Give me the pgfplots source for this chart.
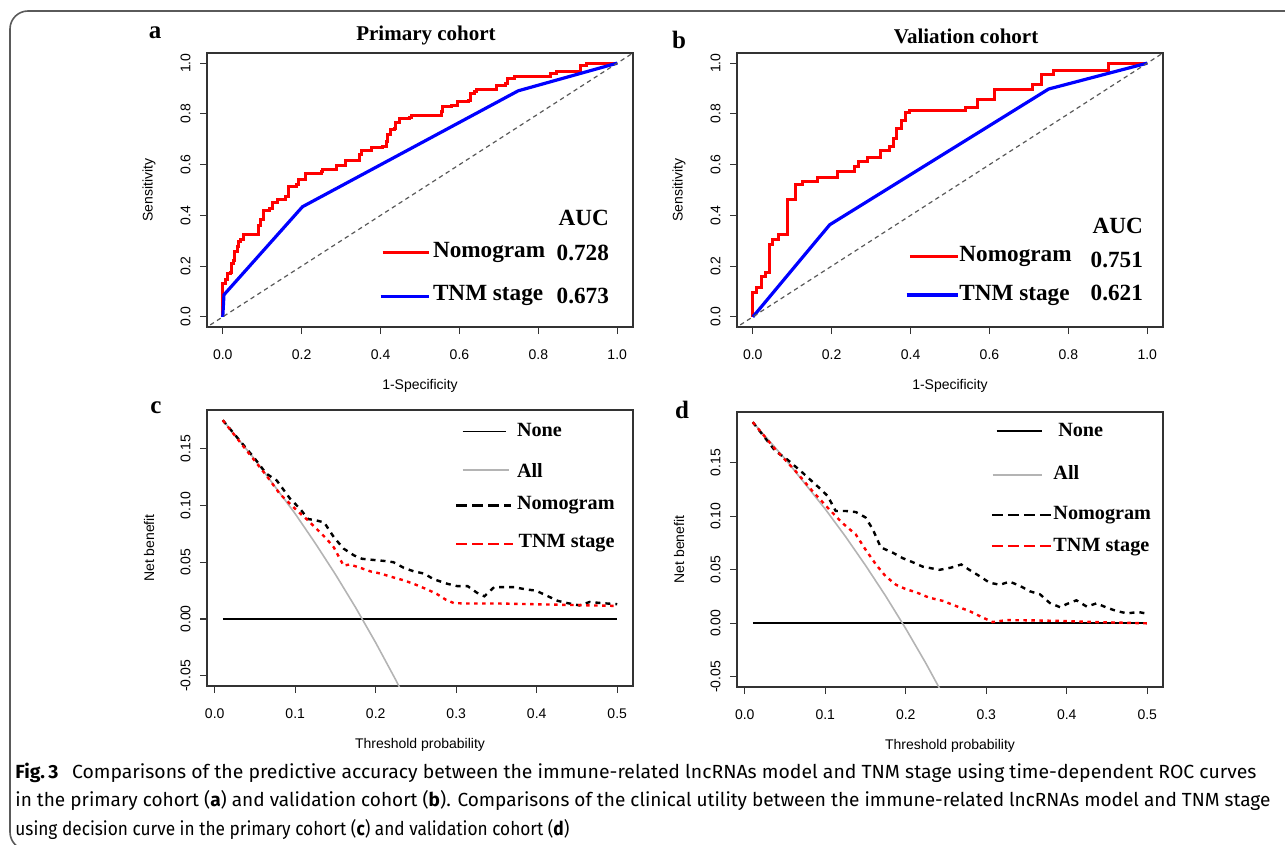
\documentclass[border=0pt]{standalone}
\usepackage{fontspec}
\setmainfont{Liberation Sans}
\newfontfamily\serifb{Liberation Serif}
\newfontfamily\capfont{Fira Sans}
\usepackage{graphicx}
\usepackage{pgfplots}
\pgfplotsset{compat=1.18}

\definecolor{rred}{RGB}{255,0,0}
\definecolor{rblue}{RGB}{0,0,255}
\definecolor{rgray}{RGB}{180,180,180}
\definecolor{framegray}{RGB}{90,90,90}

\pgfplotsset{
  rplot/.style={
    scale only axis, anchor=south west,
    axis line style={draw=black!80, line width=0.6pt},
    tick align=outside, major tick length=3.5pt,
    tick style={black!80, line width=0.6pt},
    xtick pos=left, ytick pos=left,
    ticklabel style={font=\fontsize{7}{8}\selectfont},
    xticklabel style={yshift=-4.5pt},
    yticklabel style={rotate=90, anchor=south, inner ysep=4.6pt},
    label style={font=\fontsize{7}{8}\selectfont},
    xlabel style={at={(axis description cs:0.5,-0.215)}, anchor=center},
    ylabel style={at={(axis description cs:-0.136,0.5)}, anchor=center},
  },
  roc/.style={rplot, width=213pt, height=137pt,
    xmin=-0.04, xmax=1.04, ymin=-0.04, ymax=1.04,
    xtick={0,0.2,0.4,0.6,0.8,1}, xticklabels={0.0,0.2,0.4,0.6,0.8,1.0},
    ytick={0,0.2,0.4,0.6,0.8,1}, yticklabels={0.0,0.2,0.4,0.6,0.8,1.0},
    xlabel={1-Specificity}, ylabel={Sensitivity}},
  dca/.style={rplot, width=213pt,
    xmin=-0.0096, xmax=0.5196,
    xtick={0,0.1,0.2,0.3,0.4,0.5}, xticklabels={0.0,0.1,0.2,0.3,0.4,0.5},
    ytick={-0.05,0,0.05,0.1,0.15}, yticklabels={-0.05,0.00,0.05,0.10,0.15},
    xlabel={Threshold probability}, ylabel={Net benefit}},
  diag/.style={color=black!65, line width=0.6pt, dash pattern=on 2.2pt off 1.8pt},
  nomo/.style={black, line width=1.2pt, dash pattern=on 2.5pt off 2.5pt},
  tnm/.style={rred, line width=1.2pt, dash pattern=on 1.8pt off 2.2pt},
}
\tikzset{
  legA/.style={font=\serifb\bfseries\fontsize{11.6}{13}\selectfont, inner sep=0pt},
  legC/.style={font=\serifb\bfseries\fontsize{10.1}{12}\selectfont, inner sep=0pt, anchor=west},
}

\newsavebox\capone
\newsavebox\captwo
\newsavebox\capthree

\begin{document}%
\sbox\capone{\capfont\fontsize{9.5}{11}\selectfont\textbf{Fig.\,3}\hspace{0.7em}Comparisons of the predictive accuracy between the immune-related lncRNAs model and TNM stage using time-dependent ROC curves}%
\sbox\captwo{\capfont\fontsize{9.5}{11}\selectfont in the primary cohort (\textbf{a}) and validation cohort (\textbf{b}). Comparisons of the clinical utility between the immune-related lncRNAs model and TNM stage}%
\sbox\capthree{\capfont\fontsize{9.5}{11}\selectfont using decision curve in the primary cohort (\textbf{c}) and validation cohort (\textbf{d})}%
\begin{tikzpicture}
\path[use as bounding box] (0,0) rectangle (642.5pt,-422.5pt);
\draw[framegray, line width=0.8pt, rounded corners=9pt] (30pt,-425pt) -- (5pt,-425pt) -- (5pt,-5.5pt) -- (642.5pt,-5.5pt);

% panel letters and titles
\node[anchor=base, font=\serifb\bfseries\fontsize{12.5}{14}\selectfont] at (77.5pt,-19.5pt) {a};
\node[anchor=base, font=\serifb\bfseries\fontsize{12.5}{14}\selectfont] at (339.5pt,-24.5pt) {b};
\node[anchor=base, font=\serifb\bfseries\fontsize{12.5}{14}\selectfont] at (78pt,-206.5pt) {c};
\node[anchor=base, font=\serifb\bfseries\fontsize{12.5}{14}\selectfont] at (341pt,-209pt) {d};
\node[anchor=base, font=\serifb\bfseries\fontsize{10.5}{12}\selectfont] at (213pt,-20.5pt) {Primary cohort};
\node[anchor=base, font=\serifb\bfseries\fontsize{10.5}{12}\selectfont] at (483pt,-22pt) {Valiation cohort};

% (a) ROC primary
\begin{axis}[roc, at={(103.5pt,-163.5pt)}]
\addplot[rred, line width=1.5pt, const plot] coordinates {
(0,0) (0,0.133) (0.007,0.146) (0.011,0.172) (0.0195,0.175) (0.022,0.211) (0.028,0.224)
(0.0305,0.257) (0.0365,0.277) (0.041,0.297) (0.045,0.303) (0.053,0.323) (0.087,0.323)
(0.090,0.362) (0.096,0.382) (0.102,0.421) (0.119,0.428) (0.127,0.450) (0.138,0.463)
(0.158,0.474) (0.166,0.513) (0.187,0.520) (0.191,0.542) (0.209,0.546) (0.210,0.566)
(0.251,0.572) (0.254,0.581) (0.285,0.581) (0.289,0.598) (0.310,0.605) (0.312,0.615)
(0.342,0.615) (0.346,0.638) (0.352,0.654) (0.376,0.657) (0.378,0.668) (0.405,0.673)
(0.414,0.690) (0.418,0.717) (0.424,0.739) (0.435,0.743) (0.439,0.765) (0.448,0.781)
(0.473,0.785) (0.478,0.795) (0.550,0.795) (0.554,0.808) (0.558,0.828) (0.579,0.835)
(0.596,0.850) (0.624,0.854) (0.628,0.881) (0.639,0.887) (0.643,0.896) (0.692,0.896)
(0.694,0.913) (0.718,0.920) (0.721,0.940) (0.740,0.946) (0.830,0.950) (0.832,0.959)
(0.846,0.969) (0.906,0.970) (0.908,0.990) (0.921,1.0) (1,1)};
\addplot[rblue, line width=1.6pt] coordinates {(0,0) (0.003,0.087) (0.202,0.434) (0.749,0.891) (1,1)};
\addplot[diag] coordinates {(-0.1,-0.1) (1.1,1.1)};
\node[legA, anchor=east] at (axis cs:0.98,0.390) {AUC};
\draw[rred, line width=1.5pt] (axis cs:0.405,0.252) -- (axis cs:0.524,0.252);
\draw[rblue, line width=1.6pt] (axis cs:0.400,0.079) -- (axis cs:0.524,0.079);
\node[legA, anchor=west] at (axis cs:0.532,0.252) {Nomogram};
\node[legA, anchor=east] at (axis cs:0.98,0.252) {0.728};
\node[legA, anchor=west] at (axis cs:0.532,0.084) {TNM stage};
\node[legA, anchor=east] at (axis cs:0.98,0.084) {0.673};
\end{axis}

% (b) ROC validation
\begin{axis}[roc, at={(368.5pt,-163.5pt)}]
\addplot[rred, line width=1.5pt, const plot] coordinates {
(0,0) (0,0.095) (0.010,0.115) (0.021,0.161) (0.032,0.174) (0.042,0.285) (0.051,0.304)
(0.064,0.326) (0.087,0.461) (0.108,0.520) (0.125,0.533) (0.163,0.550) (0.216,0.572)
(0.258,0.591) (0.269,0.611) (0.290,0.628) (0.325,0.657) (0.346,0.672) (0.356,0.702)
(0.364,0.742) (0.377,0.774) (0.386,0.804) (0.398,0.813) (0.538,0.824) (0.569,0.855)
(0.613,0.898) (0.708,0.914) (0.733,0.957) (0.763,0.970) (0.903,1.0) (1,1)};
\addplot[rblue, line width=1.6pt] coordinates {(0,0) (0.01,0.018) (0.195,0.363) (0.750,0.898) (1,1)};
\addplot[diag] coordinates {(-0.1,-0.1) (1.1,1.1)};
\node[legA, anchor=east] at (axis cs:0.99,0.357) {AUC};
\draw[rred, line width=1.5pt] (axis cs:0.398,0.239) -- (axis cs:0.520,0.239);
\draw[rblue, line width=1.6pt] (axis cs:0.390,0.086) -- (axis cs:0.520,0.086);
\node[legA, anchor=west] at (axis cs:0.523,0.239) {Nomogram};
\node[legA, anchor=east] at (axis cs:0.99,0.224) {0.751};
\node[legA, anchor=west] at (axis cs:0.523,0.086) {TNM stage};
\node[legA, anchor=east] at (axis cs:0.99,0.094) {0.621};
\end{axis}

% (c) DCA primary
\begin{axis}[dca, height=138pt, ymin=-0.059, ymax=0.184, at={(103.5pt,-343pt)}]
\addplot[black, line width=0.9pt] coordinates {(0.01,0) (0.5,0)};
\addplot[rgray, line width=0.8pt] coordinates {
(0.01,0.1751) (0.05,0.1403) (0.10,0.0926) (0.125,0.0666) (0.15,0.0392) (0.175,0.0101)
(0.20,-0.0209) (0.225,-0.0538) (0.25,-0.0889)};
\addplot[nomo] coordinates {
(0.01,0.175) (0.03,0.158) (0.05,0.141) (0.064,0.128) (0.077,0.122) (0.0935,0.106)
(0.106,0.097) (0.116,0.088) (0.125,0.087) (0.136,0.085) (0.148,0.072) (0.160,0.062)
(0.173,0.056) (0.183,0.053) (0.197,0.052) (0.212,0.051) (0.222,0.050) (0.235,0.045)
(0.247,0.042) (0.260,0.040) (0.272,0.035) (0.289,0.031) (0.301,0.029) (0.314,0.029)
(0.326,0.023) (0.335,0.020) (0.347,0.028) (0.360,0.028) (0.372,0.028) (0.387,0.026)
(0.399,0.025) (0.414,0.020) (0.426,0.016) (0.438,0.014) (0.453,0.012) (0.466,0.015)
(0.480,0.014) (0.5,0.013)};
\addplot[tnm] coordinates {
(0.01,0.175) (0.03,0.157) (0.05,0.139) (0.064,0.1265) (0.081,0.110) (0.102,0.0956)
(0.114,0.088) (0.127,0.079) (0.139,0.0705) (0.148,0.063) (0.160,0.047) (0.168,0.048)
(0.181,0.045) (0.193,0.042) (0.206,0.040) (0.220,0.037) (0.235,0.034) (0.247,0.031)
(0.264,0.026) (0.276,0.022) (0.287,0.017) (0.297,0.014) (0.314,0.0136) (0.355,0.0136)
(0.397,0.013) (0.438,0.0124) (0.5,0.0115)};
\draw[black, line width=0.9pt] (axis cs:0.308,0.165) -- (axis cs:0.362,0.165);
\draw[rgray, line width=0.9pt] (axis cs:0.308,0.131) -- (axis cs:0.366,0.131);
\draw[black, line width=1.2pt, dash pattern=on 5.5pt off 2.5pt] (axis cs:0.300,0.100) -- (axis cs:0.368,0.100);
\draw[rred, line width=1.2pt, dash pattern=on 5.5pt off 2.5pt] (axis cs:0.300,0.066) -- (axis cs:0.370,0.066);
\node[legC] at (axis cs:0.375,0.166) {None};
\node[legC] at (axis cs:0.375,0.131) {All};
\node[legC] at (axis cs:0.375,0.100) {Nomogram};
\node[legC] at (axis cs:0.377,0.067) {TNM stage};
\end{axis}

% (d) DCA validation
\begin{axis}[dca, height=137.5pt, ymin=-0.0595, ymax=0.1975, at={(368.5pt,-343.5pt)}]
\addplot[black, line width=0.9pt] coordinates {(0.01,0) (0.5,0)};
\addplot[rgray, line width=0.8pt] coordinates {
(0.01,0.1880) (0.05,0.1538) (0.10,0.1068) (0.125,0.0813) (0.15,0.0542) (0.175,0.0256)
(0.20,-0.0049) (0.225,-0.0373) (0.25,-0.0719)};
\addplot[nomo] coordinates {
(0.01,0.188) (0.038,0.161) (0.053,0.153) (0.0715,0.141) (0.092,0.127) (0.103,0.119)
(0.113,0.105) (0.1255,0.105) (0.138,0.104) (0.150,0.099) (0.159,0.088) (0.169,0.071)
(0.184,0.066) (0.196,0.061) (0.209,0.057) (0.221,0.053) (0.242,0.050) (0.256,0.052)
(0.269,0.055) (0.279,0.050) (0.292,0.044) (0.304,0.038) (0.317,0.036) (0.329,0.039)
(0.342,0.035) (0.354,0.030) (0.367,0.027) (0.379,0.019) (0.392,0.015) (0.400,0.018)
(0.412,0.0215) (0.425,0.0156) (0.437,0.0187) (0.450,0.0146) (0.462,0.0115) (0.475,0.0093)
(0.489,0.0106) (0.5,0.009)};
\addplot[tnm] coordinates {
(0.01,0.188) (0.038,0.1626) (0.063,0.1424) (0.084,0.1237) (0.105,0.1065) (0.121,0.094)
(0.138,0.083) (0.150,0.069) (0.163,0.055) (0.175,0.044) (0.188,0.036) (0.200,0.032)
(0.213,0.029) (0.229,0.024) (0.246,0.021) (0.263,0.016) (0.279,0.0115) (0.296,0.0053)
(0.308,0.0012) (0.325,0.003) (0.354,0.0028) (0.396,0.0022) (0.437,0.0012) (0.5,0.0)};
\draw[black, line width=0.9pt] (axis cs:0.313,0.180) -- (axis cs:0.369,0.180);
\draw[rgray, line width=0.9pt] (axis cs:0.308,0.139) -- (axis cs:0.369,0.139);
\draw[black, line width=1.2pt, dash pattern=on 5.5pt off 2.5pt] (axis cs:0.307,0.101) -- (axis cs:0.382,0.101);
\draw[rred, line width=1.2pt, dash pattern=on 5.5pt off 2.5pt] (axis cs:0.307,0.072) -- (axis cs:0.382,0.072);
\node[legC] at (axis cs:0.389,0.181) {None};
\node[legC] at (axis cs:0.383,0.141) {All};
\node[legC] at (axis cs:0.383,0.101) {Nomogram};
\node[legC] at (axis cs:0.383,0.071) {TNM stage};
\end{axis}

% caption
\node[anchor=base west, inner sep=0pt, text=black!85] at (7.5pt,-389pt) {\resizebox{620.5pt}{\height}{\usebox\capone}};
\node[anchor=base west, inner sep=0pt, text=black!85] at (7.5pt,-403pt) {\resizebox{627.5pt}{\height}{\usebox\captwo}};
\node[anchor=base west, inner sep=0pt, text=black!85] at (7.5pt,-417.5pt) {\resizebox{277pt}{\height}{\usebox\capthree}};
\end{tikzpicture}%
\end{document}
